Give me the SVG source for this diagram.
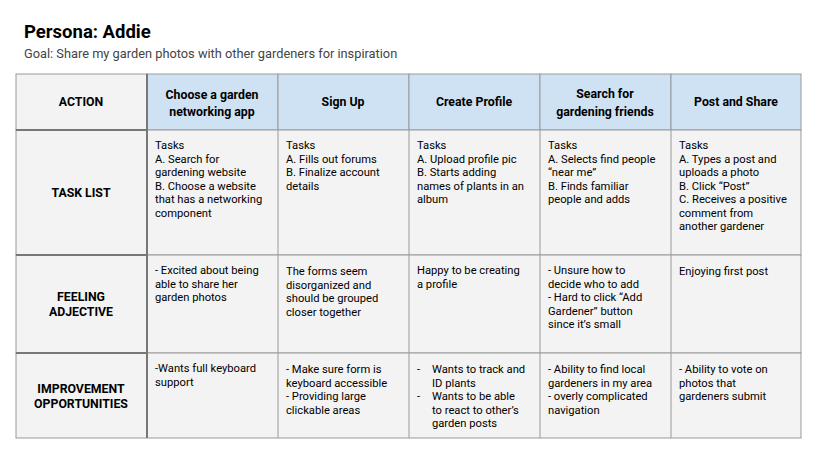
<svg xmlns="http://www.w3.org/2000/svg" width="818" height="462" viewBox="0 0 818 462">
<style>
text{font-family:Roboto,"Liberation Sans",sans-serif;fill:#000}
.c{font-size:11.2px}
.h{font-size:12.3px;font-weight:bold;text-anchor:middle}
.cell{fill:#f3f3f3;stroke:#999;stroke-width:1}
.hd{fill:#cfe2f3;stroke:#999;stroke-width:1}
</style>
<rect width="818" height="462" fill="#fff"/>
<text x="24" y="38" font-size="18.5" font-weight="bold">Persona: Addie</text>
<text x="24" y="58" font-size="12.8" style="fill:#444">Goal: Share my garden photos with other gardeners for inspiration</text>
<g id="grid">
<rect class="cell" x="16" y="74" width="131" height="56"/>
<rect class="hd" x="147" y="74" width="131" height="56"/>
<rect class="hd" x="278" y="74" width="131" height="56"/>
<rect class="hd" x="409" y="74" width="131" height="56"/>
<rect class="hd" x="540" y="74" width="131" height="56"/>
<rect class="hd" x="671" y="74" width="130" height="56"/>
<rect class="cell" x="16" y="130" width="785" height="125"/>
<rect class="cell" x="16" y="255" width="785" height="98"/>
<rect class="cell" x="16" y="353" width="785" height="85"/>
<g stroke="#999"><line x1="278" y1="130" x2="278" y2="438"/><line x1="409" y1="130" x2="409" y2="438"/><line x1="540" y1="130" x2="540" y2="438"/><line x1="671" y1="130" x2="671" y2="438"/></g>
<g stroke="#777" stroke-width="2"><line x1="147" y1="74" x2="147" y2="438"/><line x1="16" y1="130" x2="147" y2="130"/><line x1="16" y1="255" x2="147" y2="255"/><line x1="16" y1="353" x2="147" y2="353"/></g>
</g>
<g id="headers">
<text class="h" x="81" y="106">ACTION</text>
<text class="h" x="212" y="99">Choose a garden</text><text class="h" x="212" y="116">networking app</text>
<text class="h" x="343" y="106">Sign Up</text>
<text class="h" x="474" y="106">Create Profile</text>
<text class="h" x="605" y="98">Search for</text><text class="h" x="605" y="116">gardening friends</text>
<text class="h" x="736" y="106">Post and Share</text>
<text class="h" x="81" y="197">TASK LIST</text>
<text class="h" x="81" y="301">FEELING</text><text class="h" x="81" y="316">ADJECTIVE</text>
<text class="h" x="81" y="393">IMPROVEMENT</text><text class="h" x="81" y="408">OPPORTUNITIES</text>
</g>
<g id="tasks" class="c">
<text x="155" y="149"><tspan x="155">Tasks</tspan><tspan x="155" dy="13.5">A. Search for</tspan><tspan x="155" dy="13.5">gardening website</tspan><tspan x="155" dy="13.5">B. Choose a website</tspan><tspan x="155" dy="13.5">that has a networking</tspan><tspan x="155" dy="13.5">component</tspan></text>
<text x="286" y="149"><tspan x="286">Tasks</tspan><tspan x="286" dy="13.5">A. Fills out forums</tspan><tspan x="286" dy="13.5">B. Finalize account</tspan><tspan x="286" dy="13.5">details</tspan></text>
<text x="417" y="149"><tspan x="417">Tasks</tspan><tspan x="417" dy="13.5">A. Upload profile pic</tspan><tspan x="417" dy="13.5">B. Starts adding</tspan><tspan x="417" dy="13.5">names of plants in an</tspan><tspan x="417" dy="13.5">album</tspan></text>
<text x="548" y="149"><tspan x="548">Tasks</tspan><tspan x="548" dy="13.5">A. Selects find people</tspan><tspan x="548" dy="13.5">“near me”</tspan><tspan x="548" dy="13.5">B. Finds familiar</tspan><tspan x="548" dy="13.5">people and adds</tspan></text>
<text x="679" y="149"><tspan x="679">Tasks</tspan><tspan x="679" dy="13.5">A. Types a post and</tspan><tspan x="679" dy="13.5">uploads a photo</tspan><tspan x="679" dy="13.5">B. Click “Post”</tspan><tspan x="679" dy="13.5">C. Receives a positive</tspan><tspan x="679" dy="13.5">comment from</tspan><tspan x="679" dy="13.5">another gardener</tspan></text>
</g>
<g id="feelings" class="c">
<text><tspan x="155" y="274">- Excited about being</tspan><tspan x="155" dy="13.5">able to share her</tspan><tspan x="155" dy="13.5">garden photos</tspan></text>
<text><tspan x="286" y="275">The forms seem</tspan><tspan x="286" dy="13.5">disorganized and</tspan><tspan x="286" dy="13.5">should be grouped</tspan><tspan x="286" dy="13.5">closer together</tspan></text>
<text><tspan x="417" y="274">Happy to be creating</tspan><tspan x="417" dy="13.5">a profile</tspan></text>
<text><tspan x="548" y="274">- Unsure how to</tspan><tspan x="548" dy="13.5">decide who to add</tspan><tspan x="548" dy="13.5">- Hard to click “Add</tspan><tspan x="548" dy="13.5">Gardener” button</tspan><tspan x="548" dy="13.5">since it’s small</tspan></text>
<text><tspan x="679" y="275">Enjoying first post</tspan></text>
</g>
<g id="improvements" class="c">
<text><tspan x="155" y="372">-Wants full keyboard</tspan><tspan x="155" dy="13.5">support</tspan></text>
<text><tspan x="286" y="373">- Make sure form is</tspan><tspan x="286" dy="13.5">keyboard accessible</tspan><tspan x="286" dy="13.5">- Providing large</tspan><tspan x="286" dy="13.5">clickable areas</tspan></text>
<text><tspan x="417" y="373">-</tspan><tspan x="432" y="373">Wants to track and</tspan><tspan x="432" dy="13.5">ID plants</tspan><tspan x="417" dy="13.5">-</tspan><tspan x="432" y="400">Wants to be able</tspan><tspan x="432" dy="13.5">to react to other’s</tspan><tspan x="432" dy="13.5">garden posts</tspan></text>
<text><tspan x="548" y="373">- Ability to find local</tspan><tspan x="548" dy="13.5">gardeners in my area</tspan><tspan x="548" dy="13.5">- overly complicated</tspan><tspan x="548" dy="13.5">navigation</tspan></text>
<text><tspan x="679" y="373">- Ability to vote on</tspan><tspan x="679" dy="13.5">photos that</tspan><tspan x="679" dy="13.5">gardeners submit</tspan></text>
</g>
</svg>
